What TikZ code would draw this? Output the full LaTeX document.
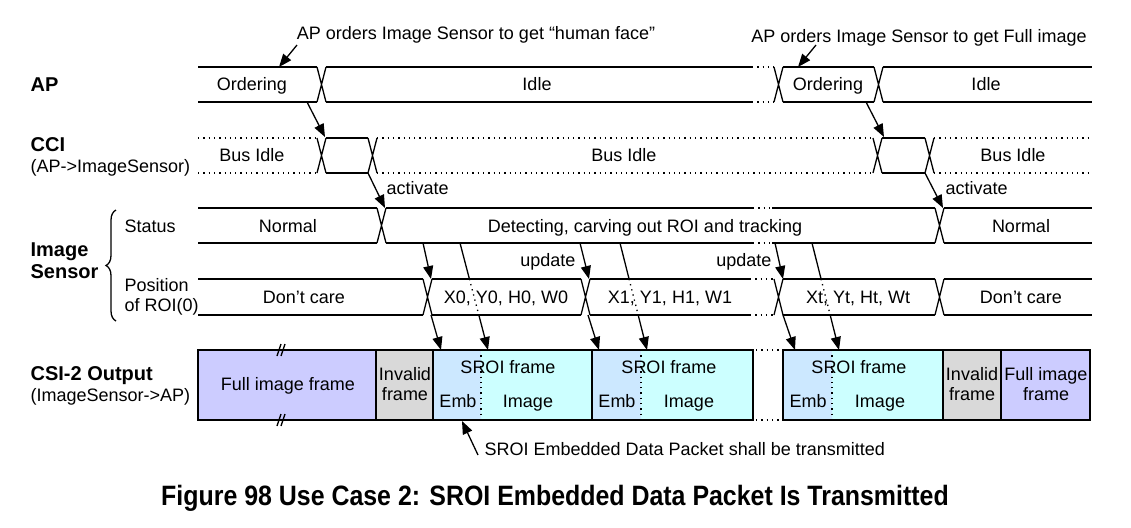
\documentclass[tikz,border=0pt]{standalone}
\usepackage{fontspec}
\usepackage{graphicx}
\setmainfont{Liberation Sans}
\usetikzlibrary{arrows.meta,calc,decorations.pathreplacing}

\definecolor{fullc}{HTML}{CCCCFF}
\definecolor{invc}{HTML}{D9D9D9}
\definecolor{embc}{HTML}{CCE8FF}
\definecolor{imgc}{HTML}{CCFFFF}

% crossing of a bus: x, top, bottom
\newcommand{\xing}[3]{\draw (#1,#2) -- (#1+9,#3) (#1,#3) -- (#1+9,#2);}
% the two lines of a bus: [style] x1, x2, top, bottom
\newcommand{\wire}[5][]{\draw[#1] (#2,#4) -- (#3,#4) (#2,#5) -- (#3,#5);}

\begin{document}
\begin{tikzpicture}[x=0.5pt, y=-0.5pt, line width=0.65pt,
    every node/.style={inner sep=0pt},
    lab/.style={font=\fontsize{9}{10}\selectfont, text height=6.5pt, text depth=0pt},
    two/.style={font=\fontsize{9}{10}\selectfont, align=center},
    sig/.style={anchor=west, font=\fontsize{10}{11}\selectfont\bfseries, text height=7.2pt, text depth=0pt},
    arr/.style={-{Triangle[length=6.5pt,width=5pt]}},
    frm/.style={line width=1.4pt}]
    \useasboundingbox (0,0) rectangle (1131,527);

    \def\apt{67}  \def\apb{102}
    \def\cct{138} \def\ccb{173}
    \def\stt{208} \def\stb{243}
    \def\rot{279} \def\rob{315}
    \def\cst{350} \def\csb{420}

    % signal names
    \node[sig] (nap) at (30,84) {AP};
    \node[sig] (ncci) at (30,144) {CCI};
    \node[lab, anchor=west] (ncci2) at (30,166) {(AP->ImageSensor)};
    \node[sig] (nis) at (30,249) {Image};
    \node[sig] (nis2) at (30,271) {Sensor};
    \node[lab, anchor=west] (nst) at (124,226) {Status};
    \node[lab, anchor=west] (npos) at (124,285) {Position};
    \node[lab, anchor=west] (npos2) at (124,305) {of ROI(0)};
    \node[sig] (ncsi) at (30,373) {CSI-2 Output};
    \node[lab, anchor=west] (ncsi2) at (30,395) {(ImageSensor->AP)};
    \draw[decorate, decoration={brace, amplitude=5pt}] (116,321) -- (116,210);

    % AP
    \wire{198}{317}{\apt}{\apb} \xing{317}{\apt}{\apb}
    \wire{326}{752}{\apt}{\apb}
    \wire[dotted]{752}{774}{\apt}{\apb} \xing{774}{\apt}{\apb}
    \wire{783}{874}{\apt}{\apb} \xing{874}{\apt}{\apb}
    \wire{883}{1092}{\apt}{\apb}
    \node[lab] (ord1) at (252,84) {Ordering};
    \node[lab] (idle1) at (537,84) {Idle};
    \node[lab] (ord2) at (828,84) {Ordering};
    \node[lab] (idle2) at (986,84) {Idle};

    % CCI
    \wire[dotted]{198}{317}{\cct}{\ccb} \xing{317}{\cct}{\ccb}
    \wire{326}{368}{\cct}{\ccb} \xing{368}{\cct}{\ccb}
    \wire[dotted]{377}{873}{\cct}{\ccb} \xing{873}{\cct}{\ccb}
    \wire{882}{925}{\cct}{\ccb} \xing{925}{\cct}{\ccb}
    \wire[dotted]{934}{1092}{\cct}{\ccb}
    \node[lab] (bus1) at (252,155) {Bus Idle};
    \node[lab] (bus2) at (624,155) {Bus Idle};
    \node[lab] (bus3) at (1013,155) {Bus Idle};

    % Status
    \wire{198}{377}{\stt}{\stb} \xing{377}{\stt}{\stb}
    \wire{386}{753}{\stt}{\stb}
    \wire[dotted]{753}{772}{\stt}{\stb}
    \wire{772}{935}{\stt}{\stb} \xing{935}{\stt}{\stb}
    \wire{944}{1092}{\stt}{\stb}
    \node[lab] (norm1) at (288,226) {Normal};
    \node[lab] (detect) at (645,226) {Detecting, carving out ROI and tracking};
    \node[lab] (norm2) at (1021,226) {Normal};

    % Position of ROI
    \wire{198}{423}{\rot}{\rob} \xing{423}{\rot}{\rob}
    \wire{432}{581}{\rot}{\rob} \xing{581}{\rot}{\rob}
    \wire{590}{750}{\rot}{\rob}
    \wire[dotted]{750}{774}{\rot}{\rob} \xing{774}{\rot}{\rob}
    \wire{783}{935}{\rot}{\rob} \xing{935}{\rot}{\rob}
    \wire{944}{1092}{\rot}{\rob}
    \node[lab] (dc1) at (304,297) {Don’t care};
    \node[lab] (roi0) at (506,297) {X0, Y0, H0, W0};
    \node[lab] (roi1) at (670,297) {X1, Y1, H1, W1};
    \node[lab] (roit) at (858,297) {Xt, Yt, Ht, Wt};
    \node[lab] (dc2) at (1021,297) {Don’t care};

    % CSI-2 output
    \fill[fullc] (198,\cst) rectangle (376,\csb);
    \fill[invc] (376,\cst) rectangle (433,\csb);
    \fill[embc] (433,\cst) rectangle (481,\csb);
    \fill[imgc] (481,\cst) rectangle (592,\csb);
    \fill[embc] (592,\cst) rectangle (641,\csb);
    \fill[imgc] (641,\cst) rectangle (753,\csb);
    \fill[embc] (783,\cst) rectangle (832,\csb);
    \fill[imgc] (832,\cst) rectangle (943,\csb);
    \fill[invc] (943,\cst) rectangle (1001,\csb);
    \fill[fullc] (1001,\cst) rectangle (1090,\csb);
    \draw[dotted] (481,\cst) -- (481,\csb) (641,\cst) -- (641,\csb) (832,\cst) -- (832,\csb);
    \draw[frm] (198,\cst) rectangle (376,\csb) (376,\cst) rectangle (433,\csb)
        (433,\cst) rectangle (592,\csb) (592,\cst) rectangle (753,\csb)
        (783,\cst) rectangle (943,\csb) (943,\cst) rectangle (1001,\csb)
        (1001,\cst) rectangle (1090,\csb);
    \wire[dotted]{756}{780}{\cst}{\csb}
    \draw (277,356) -- (281,344) (281,356) -- (285,344);
    \draw (277,426) -- (281,414) (281,426) -- (285,414);
    \node[lab] (full1) at (288,384) {Full image frame};
    \node[two] (inv1) at (405,384) {Invalid\\frame};
    \node[lab] (sroi1) at (508,367) {SROI frame};
    \node[lab] (emb1) at (458,401) {Emb};
    \node[lab] (img1) at (528,401) {Image};
    \node[lab] (sroi2) at (669,367) {SROI frame};
    \node[lab] (emb2) at (617,401) {Emb};
    \node[lab] (img2) at (689,401) {Image};
    \node[lab] (sroi3) at (859,367) {SROI frame};
    \node[lab] (emb3) at (808,401) {Emb};
    \node[lab] (img3) at (880,401) {Image};
    \node[two] (inv2) at (972,384) {Invalid\\frame};
    \node[two] (full2) at (1046,384) {Full image\\frame};

    % notes
    \node[lab] (cmd1) at (476,33) {AP orders Image Sensor to get “human face”};
    \node[lab] (cmd2) at (919,36) {AP orders Image Sensor to get Full image};
    \node[lab, anchor=west] (act1) at (386,188) {activate};
    \node[lab, anchor=west] (act2) at (945,188) {activate};
    \node[lab, anchor=east] (upd1) at (576,260) {update};
    \node[lab, anchor=east] (upd2) at (772,260) {update};
    \node[lab, anchor=west] (note) at (484,449) {SROI Embedded Data Packet shall be transmitted};
    \node (title) at (555,498) {\scalebox{0.89}[1]{\fontsize{14}{16}\selectfont\bfseries Figure 98 Use Case 2: SROI Embedded Data Packet Is Transmitted}};

    % arrow ends
    \coordinate (c1) at (297,45);  \coordinate (o1) at (279,67);
    \coordinate (c2) at (816,45);  \coordinate (o2) at (798,67);
    \coordinate (a1) at (307,102); \coordinate (b1) at (325,137);
    \coordinate (a2) at (866,102); \coordinate (b2) at (884,137);
    \coordinate (v1) at (368,173); \coordinate (w1) at (385,208);
    \coordinate (v2) at (925,173); \coordinate (w2) at (943,208);
    \coordinate (u1) at (423,243); \coordinate (r1) at (431,279);
    \coordinate (u2) at (580,243); \coordinate (r2) at (589,279);
    \coordinate (u3) at (775,243); \coordinate (r3) at (783,279);
    \coordinate (e1) at (431,315); \coordinate (f1) at (441,350);
    \coordinate (e2) at (588,315); \coordinate (f2) at (599,350);
    \coordinate (e3) at (783,315); \coordinate (f3) at (795,350);
    \coordinate (s1) at (460,243); \coordinate (t1) at (488,350);
    \coordinate (s2) at (620,243); \coordinate (t2) at (647,350);
    \coordinate (s3) at (812,243); \coordinate (t3) at (839,350);
    \coordinate (n1) at (478,455); \coordinate (m1) at (462,421);

    \draw[arr] (c1) -- (o1);
    \draw[arr] (c2) -- (o2);
    \draw[arr] (a1) -- (b1);
    \draw[arr] (a2) -- (b2);
    \draw[arr] (v1) -- (w1);
    \draw[arr] (v2) -- (w2);
    \draw[arr] (u1) -- (r1);
    \draw[arr] (u2) -- (r2);
    \draw[arr] (u3) -- (r3);
    \draw[arr] (e1) -- (f1);
    \draw[arr] (e2) -- (f2);
    \draw[arr] (e3) -- (f3);
    \draw[arr] (n1) -- (m1);
    \foreach \i in {1,2,3} {
        \draw (s\i) -- ($(s\i)!.336!(t\i)$);
        \draw[dotted] ($(s\i)!.336!(t\i)$) -- ($(s\i)!.673!(t\i)$);
        \draw[arr] ($(s\i)!.673!(t\i)$) -- (t\i);
    }
\end{tikzpicture}
\end{document}
